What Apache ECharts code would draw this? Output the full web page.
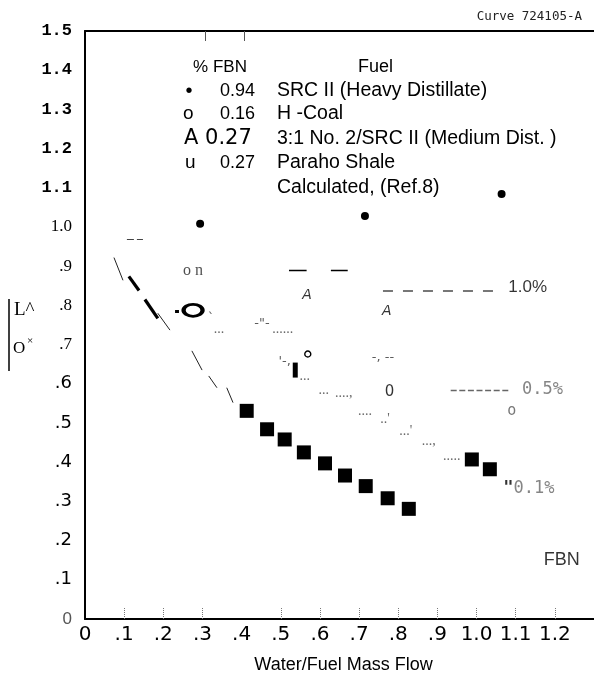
<!DOCTYPE html>
<html><head><meta charset="utf-8">
<script src="https://cdn.jsdelivr.net/npm/echarts@6/dist/echarts.min.js"></script>
<style>html,body{margin:0;padding:0;background:#fff}#c{width:594px;height:679px}</style>
</head><body><div id="c"></div>
<script>
// ---- axes / ticks ----
const xTickValues = [0,0.1,0.2,0.3,0.4,0.5,0.6,0.7,0.8,0.9,1.0,1.1,1.2];
const xTickLabels = ['0','.1','.2','.3','.4','.5','.6','.7','.8','.9','1.0','1.1','1.2'];
const xTickMarks = [0.1,0.2,0.3,0.5,0.6,0.7,0.8,0.9,1.0,1.1,1.2];
const topTickMarks = [0.306,0.406];
const yTickLabels = ['0','.1','.2','.3','.4','.5','.6','.7','.8','.9','1.0','1.1','1.2','1.3','1.4','1.5'];

// ---- data series ----
const parahoX = [0.413,0.465,0.510,0.559,0.613,0.664,0.717,0.773,0.827,0.988,1.034];
const parahoY = [0.531,0.484,0.458,0.425,0.397,0.366,0.339,0.308,0.281,0.407,0.382];
const parahoPartial = [[0.537,0.635]];
const srcX = [0.294,0.715,1.064];
const srcY = [1.008,1.028,1.084];
const hCoalLarge = [[0.276,0.7875]];
const hCoalSmall = [[0.569,0.676]];
const medDist = [[0.567,0.8255,'A'],[0.771,0.785,'A']];
const hCoalGlyphs = [[0.778,0.5795,'0']];
const hCoalGrey = [[1.090,0.531,'o']];

// ---- calculated curves (pieces) ----
const thinSlashes = [[[0.074,0.922],[0.097,0.864]],[[0.186,0.780],[0.217,0.737]],[[0.273,0.684],[0.299,0.635]],[[0.316,0.620],[0.337,0.590]],[[0.362,0.590],[0.378,0.552]]];
const boldSlashes = [[[0.112,0.874],[0.138,0.838]],[[0.153,0.815],[0.186,0.767]],[[0.230,0.786],[0.240,0.786]]];
const solidDashes = [[[0.521,0.889],[0.566,0.889]],[[0.628,0.889],[0.671,0.889]]];
const curve10 = [[[0.761,0.838],[1.054,0.838]]];
const curve05 = [[[0.934,0.5846],[1.087,0.5846]]];
const shortDash = [[[0.107,0.9675],[0.148,0.9675]]];

// ---- text fragments on the plot ----
const dotTrail = [[0.342,0.739,'...'],[0.505,0.739,'......'],[0.5615,0.620,'...'],[0.610,0.5846,'...'],[0.661,0.5745,'....,'],[0.715,0.529,'....'],[0.766,0.5085,"..'"],[0.819,0.478,"...'"],[0.878,0.4527,'...,'],[0.937,0.4147,'.....']];
const tickGlyphs = [[0.322,0.765,'`'],[0.452,0.7545,'-"-'],[0.510,0.6556,"'-,"],[0.761,0.666,'-, --']];
const serifNotes = [[0.276,0.889,'o n']];
const curveLabels = [[1.080,0.8458,'1.0%']];
const monoLabels = [[1.115,0.5846,'0.5%'],[1.067,0.3335,'"0.1%']];
const fbnLabel = [[1.2175,0.151,'FBN']];

// ---- legend ----
const legendHeader = ['% FBN','Fuel'];
const legendSymbols = ['\u2022','o','A','u'];
const legendFbn = ['0.94','0.16','0.27','0.27'];
const legendFuel = ['SRC II (Heavy Distillate)','H -Coal','3:1 No. 2/SRC II (Medium Dist. )','Paraho Shale','Calculated, (Ref.8)'];
const chartId = 'Curve 724105-A';
const xTitle = 'Water/Fuel Mass Flow';

const SANS = 'Liberation Sans';
const DJV = 'DejaVu Sans';

function textSeries(arr, label, pos) {
  return {
    type: 'scatter', symbol: 'circle', symbolSize: 1, silent: true,
    itemStyle: {color: 'transparent'},
    data: arr.map(d => ({value: [d[0], d[1]], name: d[2]})),
    label: Object.assign({show: true, position: pos || 'inside', distance: 0, formatter: p => p.name}, label),
    z: 5
  };
}
function linesSeries(arr, style) {
  return {type: 'lines', coordinateSystem: 'cartesian2d', silent: true, polyline: false,
    data: arr.map(c => ({coords: c})), lineStyle: Object.assign({opacity: 1, curveness: 0}, style), z: 3};
}

const chart = echarts.init(document.getElementById('c'), null, {renderer: 'canvas'});
const rowY = [91,114,139,163,188];
const graphics = [
  {type:'text', x:582, y:17, style:{text: chartId, fontFamily:'DejaVu Sans Mono', fontSize:12.5, fill:'#222', align:'right', verticalAlign:'middle'}},
  {type:'text', x:220, y:67, style:{text: legendHeader[0], fontFamily:SANS, fontSize:17, fill:'#000', align:'center', verticalAlign:'middle'}},
  {type:'text', x:358, y:67, style:{text: legendHeader[1], fontFamily:SANS, fontSize:18, fill:'#000', align:'left', verticalAlign:'middle'}},
  {type:'text', x:189, y:rowY[0], style:{text: legendSymbols[0], fontFamily:SANS, fontSize:20, fill:'#000', align:'center', verticalAlign:'middle'}},
  {type:'text', x:183, y:rowY[1], style:{text: legendSymbols[1], fontFamily:SANS, fontSize:19, fill:'#000', align:'left', verticalAlign:'middle'}},
  {type:'text', x:184, y:rowY[2], style:{text: legendSymbols[2] + ' ' + legendFbn[2], fontFamily:DJV, fontSize:21, fill:'#000', align:'left', verticalAlign:'middle'}},
  {type:'text', x:185, y:rowY[3], style:{text: legendSymbols[3], fontFamily:SANS, fontSize:19, fill:'#000', align:'left', verticalAlign:'middle'}},
  {type:'line', shape:{x1:9, y1:299, x2:9, y2:371}, style:{stroke:'#000', lineWidth:1.5}},
  {type:'text', x:14, y:310, style:{text:'L^', fontFamily:'Liberation Serif', fontSize:19, fill:'#000', align:'left', verticalAlign:'middle'}},
  {type:'text', x:13, y:349, style:{text:'O', fontFamily:'Liberation Serif', fontSize:17, fill:'#000', align:'left', verticalAlign:'middle'}},
  {type:'text', x:27, y:341, style:{text:'\u00d7', fontFamily:'Liberation Serif', fontSize:11, fill:'#000', align:'left', verticalAlign:'middle'}}
];
[0,1,3].forEach(i => graphics.push({type:'text', x:220, y:rowY[i], style:{text: legendFbn[i], fontFamily:SANS, fontSize:18, fill:'#000', align:'left', verticalAlign:'middle'}}));
legendFuel.forEach((t, i) => graphics.push({type:'text', x:277, y:rowY[i], style:{text: t, fontFamily:SANS, fontSize:19.5, fill:'#000', align:'left', verticalAlign:'middle'}}));

const yRich = {
  m: {fontFamily:'Liberation Mono', fontWeight:'bold', fontSize:17, color:'#000'},
  s: {fontFamily:'Liberation Serif', fontSize:17, color:'#000'},
  d: {fontFamily:DJV, fontSize:18, color:'#000'},
  z: {fontFamily:SANS, fontSize:17, color:'#555'}
};

chart.setOption({
  animation: false,
  backgroundColor: '#fff',
  grid: {left: 85, top: 31, right: 0, bottom: 56.5, containLabel: false},
  xAxis: [{
    type: 'value', min: 0, max: 1.3, interval: 0.1,
    axisLine: {show: true, lineStyle: {color: '#000', width: 2}},
    axisTick: {show: true, inside: true, length: 12, customValues: xTickMarks, lineStyle: {color: '#777', width: 1, type: 'dotted'}},
    axisLabel: {show: true, customValues: xTickValues, margin: 6, fontFamily: DJV, fontSize: 20, color: '#000',
      formatter: v => xTickLabels[Math.round(v * 10)]},
    splitLine: {show: false},
    name: xTitle, nameLocation: 'middle', nameGap: 37,
    nameTextStyle: {fontFamily: SANS, fontSize: 18, color: '#000', padding: [0, 0, 0, 8]}
  }, {
    type: 'value', min: 0, max: 1.3, position: 'top',
    axisLine: {show: true, lineStyle: {color: '#000', width: 2}},
    axisTick: {show: true, inside: true, length: 10, customValues: topTickMarks, lineStyle: {color: '#555', width: 1}},
    axisLabel: {show: false}, splitLine: {show: false}
  }],
  yAxis: {
    type: 'value', min: 0, max: 1.5, interval: 0.1,
    axisLine: {show: true, lineStyle: {color: '#000', width: 2}},
    axisTick: {show: false},
    splitLine: {show: false},
    axisLabel: {margin: 13, formatter: v => {
      const i = Math.round(v * 10);
      const k = i >= 11 ? 'm' : (i >= 7 ? 's' : (i >= 1 ? 'd' : 'z'));
      return '{' + k + '|' + yTickLabels[i] + '}';
    }, rich: yRich}
  },
  graphic: graphics,
  series: [
    linesSeries(thinSlashes, {color: '#222', width: 1}),
    linesSeries(boldSlashes, {color: '#000', width: 3.2}),
    linesSeries(solidDashes, {color: '#000', width: 1.3}),
    linesSeries(curve10, {color: '#777', width: 2, type: [10, 10]}),
    linesSeries(curve05, {color: '#666', width: 1.4, type: [6, 2.6]}),
    linesSeries(shortDash, {color: '#444', width: 1.1, type: [7, 3]}),
    {type: 'scatter', symbol: 'rect', symbolSize: 14, silent: true, itemStyle: {color: '#000', opacity: 1},
      data: parahoX.map((x, i) => [x, parahoY[i]]), z: 4},
    {type: 'scatter', symbol: 'rect', symbolSize: [5, 15], silent: true, itemStyle: {color: '#000', opacity: 1}, data: parahoPartial, z: 4},
    {type: 'scatter', symbol: 'circle', symbolSize: 8, silent: true, itemStyle: {color: '#000', opacity: 1},
      data: srcX.map((x, i) => [x, srcY[i]]), z: 4},
    {type: 'scatter', symbol: 'circle', symbolSize: [19, 12], silent: true,
      itemStyle: {color: '#fff', borderColor: '#000', borderWidth: 3.4, opacity: 1}, data: hCoalLarge, z: 4},
    {type: 'scatter', symbol: 'circle', symbolSize: 6, silent: true,
      itemStyle: {color: '#fff', borderColor: '#000', borderWidth: 1.4, opacity: 1}, data: hCoalSmall, z: 4},
    textSeries(medDist, {fontFamily: DJV, fontStyle: 'italic', fontSize: 14, color: '#000'}),
    textSeries(hCoalGlyphs, {fontFamily: DJV, fontSize: 15, color: '#000'}),
    textSeries(hCoalGrey, {fontFamily: 'DejaVu Sans Mono', fontSize: 15, color: '#555'}),
    textSeries(dotTrail, {fontFamily: 'Liberation Serif', fontSize: 14, color: '#444'}),
    textSeries(tickGlyphs, {fontFamily: DJV, fontSize: 13, color: '#333'}),
    textSeries(serifNotes, {fontFamily: 'Liberation Serif', fontSize: 16, color: '#222'}),
    textSeries(curveLabels, {fontFamily: SANS, fontSize: 17, color: '#000'}, 'right'),
    textSeries(monoLabels, {fontFamily: 'DejaVu Sans Mono', fontSize: 17, color: '#666',
      formatter: p => p.name.charAt(0) === '"' ? '{q|"}' + p.name.slice(1) : p.name,
      rich: {q: {fontFamily: 'DejaVu Sans Mono', fontWeight: 'bold', fontSize: 17, color: '#000'}}}, 'right'),
    textSeries(fbnLabel, {fontFamily: SANS, fontSize: 18, color: '#000'})
  ]
});
</script>
</body></html>
